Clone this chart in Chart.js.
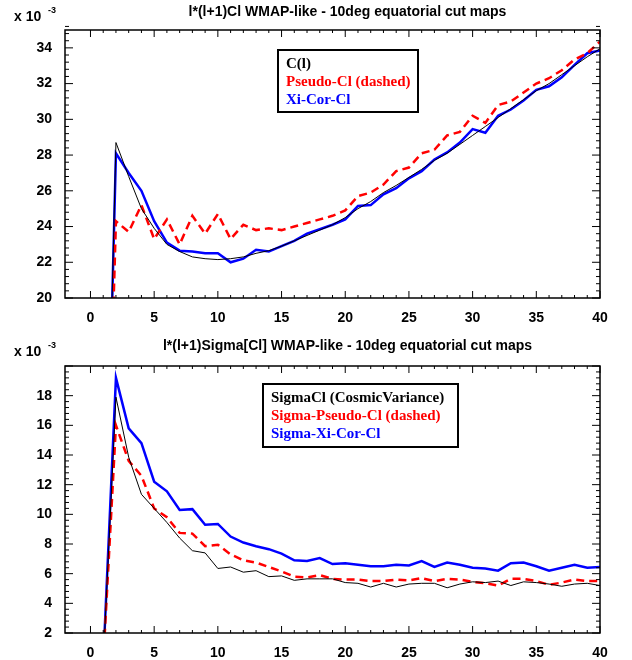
<!DOCTYPE html>
<html>
<head>
<meta charset="utf-8">
<script src="https://cdn.jsdelivr.net/npm/chart.js@4"></script>
<style>
  body { margin: 0; background: #fff; }
  canvas { position: absolute; left: 0; }
</style>
</head>
<body>
<canvas id="top" width="632" height="330" style="top:0"></canvas>
<canvas id="bot" width="632" height="330" style="top:330px"></canvas>
<script>
// multipoles l = 1..40
var ells = [];
for (var i = 1; i <= 40; i++) ells.push(i);

// l(l+1)Cl, units of 1e-3
var clTrue = [0, 28.7, 26.8, 25.0, 23.9, 23.0, 22.6, 22.3, 22.2, 22.15, 22.2, 22.3, 22.5, 22.65, 22.9, 23.2, 23.5, 23.8, 24.1, 24.5,
  25.0, 25.4, 25.9, 26.3, 26.75, 27.2, 27.7, 28.1, 28.6, 29.1, 29.6, 30.1, 30.6, 31.1, 31.6, 32.0, 32.5, 33.0, 33.5, 33.95];
var clPseudo = [0, 24.3, 23.7, 25.2, 23.3, 24.4, 23.0, 24.6, 23.6, 24.7, 23.3, 24.1, 23.8, 23.9, 23.8, 24.0, 24.2, 24.4, 24.6, 24.9,
  25.7, 25.9, 26.35, 27.1, 27.3, 28.1, 28.3, 29.1, 29.3, 30.2, 29.8, 30.8, 31.0, 31.5, 32.0, 32.3, 32.75, 33.35, 33.7, 34.35];
var clXi = [0, 28.1, 27.0, 26.0, 24.3, 23.1, 22.65, 22.6, 22.5, 22.5, 22.0, 22.2, 22.7, 22.6, 22.9, 23.2, 23.6, 23.85, 24.1, 24.4,
  25.15, 25.2, 25.8, 26.15, 26.7, 27.1, 27.75, 28.15, 28.7, 29.45, 29.25, 30.2, 30.55, 31.05, 31.65, 31.85, 32.35, 33.05, 33.7, 33.85];

// l(l+1)Sigma[Cl], units of 1e-3
var sigCosmic = [0, 17.9, 13.85, 11.35, 10.4, 9.45, 8.4, 7.55, 7.4, 6.35, 6.45, 6.1, 6.2, 5.8, 5.85, 5.55, 5.65, 5.65, 5.65, 5.4,
  5.35, 5.1, 5.35, 5.1, 5.3, 5.35, 5.35, 5.05, 5.3, 5.45, 5.4, 5.5, 5.2, 5.45, 5.4, 5.3, 5.15, 5.3, 5.35, 5.2];
var sigPseudo = [0, 16.0, 13.6, 12.6, 10.4, 9.8, 8.75, 8.7, 7.85, 7.95, 7.3, 6.9, 6.75, 6.45, 6.15, 5.8, 5.75, 5.9, 5.65, 5.6,
  5.6, 5.5, 5.5, 5.6, 5.55, 5.7, 5.5, 5.65, 5.6, 5.45, 5.35, 5.2, 5.65, 5.65, 5.5, 5.25, 5.4, 5.6, 5.5, 5.5];
var sigXi = [0, 19.2, 15.8, 14.8, 12.2, 11.55, 10.3, 10.35, 9.3, 9.35, 8.5, 8.1, 7.85, 7.65, 7.35, 6.9, 6.85, 7.05, 6.65, 6.7,
  6.6, 6.5, 6.5, 6.6, 6.55, 6.85, 6.45, 6.75, 6.6, 6.4, 6.35, 6.2, 6.7, 6.75, 6.5, 6.2, 6.4, 6.6, 6.4, 6.45];

var xTicks = [0, 5, 10, 15, 20, 25, 30, 35, 40];

function pts(vals) {
  return vals.map(function(v, i) { return { x: ells[i], y: v }; });
}

var sansBold = 'bold 14px "Liberation Sans", Arial, sans-serif';
var serifBold = 'bold 15px "Liberation Serif", "Times New Roman", serif';

// frame, inward ticks, title, exponent, legend
var decor = {
  id: 'decor',
  afterDraw: function(chart, args, o) {
    var c = chart.ctx, a = chart.chartArea;
    var xs = chart.scales.x, ys = chart.scales.y;
    c.save();
    c.strokeStyle = '#000';
    c.lineWidth = 1.5;
    c.strokeRect(a.left, a.top, a.right - a.left, a.bottom - a.top);
    c.lineWidth = 1;
    c.beginPath();
    for (var v = 0; v <= 40; v++) {
      var px = xs.getPixelForValue(v);
      var len = v % 5 == 0 ? 7 : 3;
      c.moveTo(px, a.bottom); c.lineTo(px, a.bottom - len);
      c.moveTo(px, a.top); c.lineTo(px, a.top + len);
    }
    for (var k = 0; k <= Math.round((o.ymax - o.ymin) / 0.4); k++) {
      var yv = o.ymin + k * 0.4;
      var py = ys.getPixelForValue(yv);
      var major = k % 5 == 0;
      var ln = major ? 8 : 4;
      c.moveTo(a.left, py); c.lineTo(a.left + ln, py);
      c.moveTo(a.right, py); c.lineTo(a.right - ln, py);
    }
    c.stroke();

    c.fillStyle = '#000';
    c.font = sansBold;
    c.textAlign = 'center';
    c.textBaseline = 'middle';
    c.fillText(o.title, (a.left + a.right) / 2 + 15, o.titleY);
    c.textAlign = 'left';
    c.fillText('x 10', 14, o.expY);
    c.font = 'bold 9px "Liberation Sans", Arial, sans-serif';
    c.fillText('-3', 48, o.expY - 6);

    // legend box
    var L = o.legend;
    c.fillStyle = '#fff';
    c.fillRect(L.x, L.y, L.w, L.h);
    c.lineWidth = 2;
    c.strokeRect(L.x, L.y, L.w, L.h);
    c.font = serifBold;
    c.textBaseline = 'middle';
    L.items.forEach(function(it, i) {
      c.fillStyle = it[1];
      c.fillText(it[0], L.x + 8, L.y + 14 + i * 18);
    });
    c.restore();
  }
};

function makeChart(id, s1, s2, s3, o) {
  new Chart(document.getElementById(id), {
    type: 'line',
    data: {
      datasets: [
        { data: pts(s1), borderColor: '#000', borderWidth: 1, pointRadius: 0, tension: 0 },
        { data: pts(s2), borderColor: '#ff0000', borderWidth: 2.5, borderDash: [8, 5], pointRadius: 0, tension: 0 },
        { data: pts(s3), borderColor: '#0000ff', borderWidth: 2.5, pointRadius: 0, tension: 0 }
      ]
    },
    options: {
      responsive: false,
      animation: false,
      events: [],
      layout: { padding: { top: o.padTop, right: 32, left: 0, bottom: 0 } },
      plugins: { legend: { display: false }, tooltip: { enabled: false }, decor: o },
      scales: {
        x: {
          type: 'linear', min: -2, max: 40,
          grid: { display: false }, border: { display: false },
          afterBuildTicks: function(ax) { ax.ticks = xTicks.map(function(v) { return { value: v }; }); },
          afterFit: function(ax) { ax.height = o.xh; },
          ticks: { color: '#000', font: { family: '"Liberation Sans", Arial, sans-serif', weight: 'bold', size: 14 }, padding: 4, maxRotation: 0 }
        },
        y: {
          min: o.ymin, max: o.ymax,
          grid: { display: false }, border: { display: false },
          afterBuildTicks: function(ax) { ax.ticks = o.yTicks.map(function(v) { return { value: v }; }); },
          afterFit: function(ax) { ax.width = 65; },
          ticks: { color: '#000', font: { family: '"Liberation Sans", Arial, sans-serif', weight: 'bold', size: 14 }, padding: 5 }
        }
      }
    },
    plugins: [decor]
  });
}

makeChart('top', clTrue, clPseudo, clXi, {
  title: 'l*(l+1)Cl WMAP-like - 10deg equatorial cut maps', titleY: 12, expY: 17,
  padTop: 30, xh: 32, ymin: 20, ymax: 35, yTicks: [20, 22, 24, 26, 28, 30, 32, 34],
  legend: { x: 278, y: 50, w: 140, h: 62, items: [['C(l)', '#000'], ['Pseudo-Cl (dashed)', '#ff0000'], ['Xi-Cor-Cl', '#0000ff']] }
});

makeChart('bot', sigCosmic, sigPseudo, sigXi, {
  title: 'l*(l+1)Sigma[Cl] WMAP-like - 10deg equatorial cut maps', titleY: 16, expY: 22,
  padTop: 36, xh: 27, ymin: 2, ymax: 20, yTicks: [2, 4, 6, 8, 10, 12, 14, 16, 18],
  legend: { x: 263, y: 54, w: 195, h: 63, items: [['SigmaCl (CosmicVariance)', '#000'], ['Sigma-Pseudo-Cl (dashed)', '#ff0000'], ['Sigma-Xi-Cor-Cl', '#0000ff']] }
});
</script>
</body>
</html>
